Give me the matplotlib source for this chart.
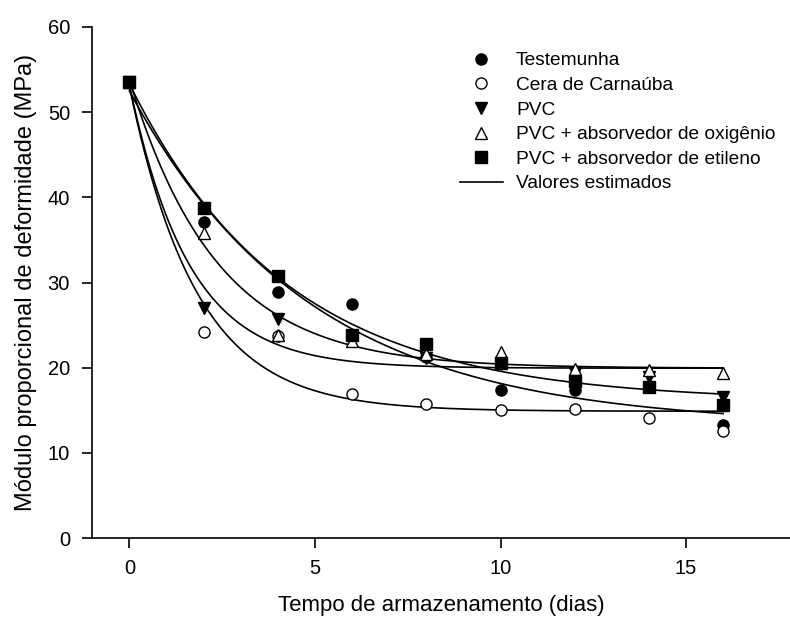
import numpy as np
import matplotlib
matplotlib.use("Agg")
import matplotlib.pyplot as plt
from matplotlib.lines import Line2D

plt.rcParams['font.family'] = ['Liberation Sans', 'DejaVu Sans']

# Storage time (days) and deformability modulus (MPa) per treatment
dias = np.array([0, 2, 4, 6, 8, 10, 12, 14, 16], dtype=float)
testemunha = np.array([53.6, 37.1, 28.9, 27.5, 21.3, 17.4, 17.4, np.nan, 13.3])
cera = np.array([53.6, 24.2, 23.7, 16.9, 15.7, 15.0, 15.2, 14.1, 12.6])
pvc = np.array([53.6, 27.0, 25.7, 23.5, 21.1, 20.4, 19.4, 18.95, 16.5])
pvc_oxigenio = np.array([53.6, 35.8, 23.8, 23.1, 21.6, 21.9, 19.8, 19.7, 19.35])
pvc_etileno = np.array([53.6, 38.8, 30.8, 23.85, 22.8, 20.6, 18.4, 17.7, 15.6])

nomes = ["Testemunha", "Cera de Carnaúba", "PVC",
         "PVC + absorvedor de oxigênio", "PVC + absorvedor de etileno"]
series = [testemunha, cera, pvc, pvc_oxigenio, pvc_etileno]
marcadores = ["o", "o", "v", "^", "s"]
preenchido = [True, False, True, False, True]


def ajuste_exponencial(x, y):
    """Least-squares fit of y = y0 + a*exp(-b*x), ignoring missing values."""
    ok = ~np.isnan(y)
    x, y = x[ok], y[ok]
    melhor = None
    for b in np.linspace(0.02, 3.0, 3000):
        A = np.column_stack([np.ones_like(x), np.exp(-b * x)])
        coef, *_ = np.linalg.lstsq(A, y, rcond=None)
        sse = np.sum((A @ coef - y) ** 2)
        if melhor is None or sse < melhor[0]:
            melhor = (sse, coef[0], coef[1], b)
    return melhor[1:]


fig = plt.figure(figsize=(7.9, 6.22), dpi=100)
ax = fig.add_axes([0.1168, 0.135, 0.8832, 0.8216])

xs = np.linspace(0, 16, 300)
for y in series:
    y0, a, b = ajuste_exponencial(dias, y)
    ax.plot(xs, y0 + a * np.exp(-b * xs), color="black", lw=1.2, zorder=2)

for y, m, f in zip(series, marcadores, preenchido):
    ax.plot(dias, y, linestyle="none", marker=m, markersize=8,
            markerfacecolor="black" if f else "white",
            markeredgecolor="black", markeredgewidth=1.0, zorder=3)

ax.set_xlim(-1, 17.8)
ax.set_ylim(0, 60)
ax.set_xticks([0, 5, 10, 15])
ax.set_yticks(range(0, 61, 10))
for s in ["top", "right"]:
    ax.spines[s].set_visible(False)
for s in ["left", "bottom"]:
    ax.spines[s].set_linewidth(1.2)
ax.tick_params(direction="out", length=7, width=1.2, labelsize=14.5)
ax.tick_params(axis="y", pad=9)
ax.tick_params(axis="x", pad=8)

ax.set_xlabel("Tempo de armazenamento (dias)", fontsize=16, labelpad=12)
ax.set_ylabel("Módulo proporcional de deformidade (MPa)", fontsize=17,
              labelpad=8)

handles = []
for n, m, f in zip(nomes, marcadores, preenchido):
    handles.append(Line2D([], [], linestyle="none", marker=m, markersize=8,
                          markerfacecolor="black" if f else "white",
                          markeredgecolor="black", label=n))
handles.append(Line2D([], [], color="black", lw=1.2, label="Valores estimados"))
ax.legend(handles=handles, loc="upper left", bbox_to_anchor=(0.527, 0.951),
          frameon=False, fontsize=13.8, handlelength=2.24, labelspacing=0.375,
          handletextpad=0.68, borderpad=0, borderaxespad=0)

fig.savefig("out.png", dpi=100)
